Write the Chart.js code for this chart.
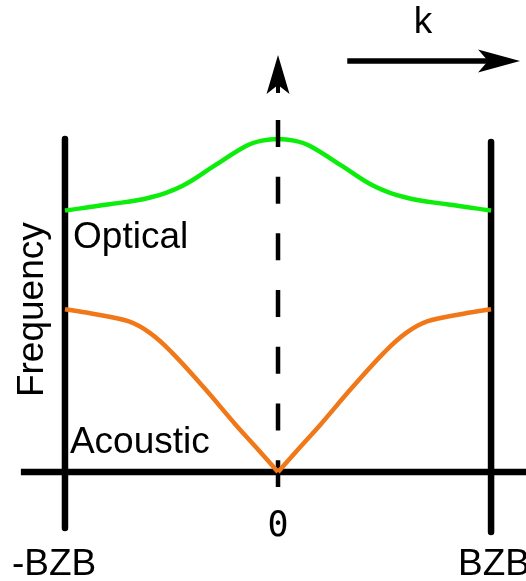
<!DOCTYPE html>
<html><head><meta charset="utf-8">
<script src="https://cdn.jsdelivr.net/npm/chart.js@4.4.0/dist/chart.umd.min.js"></script>
<style>html,body{margin:0;padding:0;background:#fff;overflow:hidden}canvas{display:block}</style>
</head><body>
<canvas id="c" width="526" height="581"></canvas>
<script>
// wave vector k in units of the Brillouin zone boundary, frequency in arbitrary units
const kOptical = [-1,-0.8,-0.6,-0.45,-0.3,-0.15,-0.075,0,0.075,0.15,0.3,0.45,0.6,0.8,1];
const optical  = [0.785,0.803,0.824,0.859,0.919,0.979,0.995,1.000,0.995,0.979,0.919,0.859,0.824,0.803,0.785];

const kAcousticLeft  = [-1,-0.85,-0.7,-0.6,-0.5,-0.35,-0.2,-0.1,0];
const acousticLeft   = [0.489,0.473,0.452,0.417,0.360,0.255,0.143,0.072,0];
const kAcousticRight = [0,0.1,0.2,0.35,0.5,0.6,0.7,0.85,1];
const acousticRight  = [0,0.072,0.143,0.255,0.360,0.417,0.452,0.473,0.489];

const tickLabels = ['-BZB','0','BZB'];
const tickLabelX = [-1.249,0,0.845];
const tickLabelY = [-0.309,-0.192,-0.309];

const textLabels = ['Optical','Acoustic','k'];
const textX = [-0.962,-0.977,0.681];
const textY = [0.673,0.057,1.318];
const axisTitle = 'Frequency';

const xRange = [-1.305,1.164];
const yRange = [-0.327,1.417];

const pts = (xs, ys) => xs.map((x,i)=>({x:x,y:ys[i]}));

const line = (data, color, width, order, dash, tension) => ({
  data, borderColor: color, borderWidth: width, order,
  borderDash: dash || [], showLine: true, pointRadius: 0,
  tension: tension || 0, fill: false, borderCapStyle: 'butt', borderJoinStyle: 'round'
});

const decor = {
  id: 'decor',
  afterDatasetsDraw(chart) {
    const ctx = chart.ctx, xs = chart.scales.x, ys = chart.scales.y;
    const px = v => xs.getPixelForValue(v), py = v => ys.getPixelForValue(v);
    ctx.save();
    ctx.fillStyle = '#000';
    // up arrow head on the k = 0 axis
    let tx = px(0), ty = py(1.252);
    ctx.beginPath();
    ctx.moveTo(tx, ty);
    ctx.lineTo(tx + 11.5, ty + 39);
    ctx.lineTo(tx, ty + 30);
    ctx.lineTo(tx - 11.5, ty + 39);
    ctx.closePath(); ctx.fill();
    ctx.fillRect(tx - 2, ty + 29, 4, 9);
    // k direction arrow head
    tx = px(1.136); ty = py(1.234);
    ctx.beginPath();
    ctx.moveTo(tx, ty);
    ctx.lineTo(tx - 42, ty - 11.5);
    ctx.lineTo(tx - 32, ty);
    ctx.lineTo(tx - 42, ty + 11.5);
    ctx.closePath(); ctx.fill();
    // text
    ctx.font = '37px "Liberation Sans", Arial, sans-serif';
    ctx.textBaseline = 'alphabetic';
    textLabels.forEach((t,i) => {
      ctx.textAlign = t === 'k' ? 'center' : 'left';
      ctx.fillText(t, px(textX[i]), py(textY[i]));
    });
    tickLabels.forEach((t,i) => {
      if (t === '0') { ctx.font = '35px "DejaVu Sans Mono", monospace'; ctx.textAlign = 'center'; }
      else { ctx.font = '37px "Liberation Sans", Arial, sans-serif'; ctx.textAlign = 'left'; }
      ctx.fillText(t, px(tickLabelX[i]), py(tickLabelY[i]));
    });
    ctx.font = '37px "Liberation Sans", Arial, sans-serif';
    ctx.textAlign = 'left';
    ctx.translate(px(-1.103), py(0.225));
    ctx.rotate(-Math.PI/2);
    ctx.fillText(axisTitle, 0, 0);
    ctx.restore();
  }
};

new Chart(document.getElementById('c'), {
  type: 'scatter',
  data: { datasets: [
    line(pts(kAcousticLeft, acousticLeft), '#f07818', 4.5, 0, null, 0.4),
    line(pts(kAcousticRight, acousticRight), '#f07818', 4.5, 0, null, 0.4),
    line(pts([0,0],[1.057,-0.045]), '#000', 4.5, 1, [27,29.7]),
    line(pts(kOptical, optical), '#0ced0c', 4.5, 2, null, 0.4),
    line(pts([-1.207,1.164],[0,0]), '#000', 6.5, 3),
    line(pts([-1,-1],[1.0,-0.168]), '#000', 6.5, 3),
    line(pts([1,1],[0.991,-0.180]), '#000', 6.5, 3),
    line(pts([0.325,0.99],[1.234,1.234]), '#000', 5.5, 3)
  ]},
  options: {
    responsive: false, animation: false, devicePixelRatio: 1,
    layout: { padding: 0 },
    plugins: { legend: { display: false }, tooltip: { enabled: false } },
    scales: {
      x: { type: 'linear', display: false, min: xRange[0], max: xRange[1] },
      y: { type: 'linear', display: false, min: yRange[0], max: yRange[1] }
    }
  },
  plugins: [decor]
});
</script>
</body></html>
